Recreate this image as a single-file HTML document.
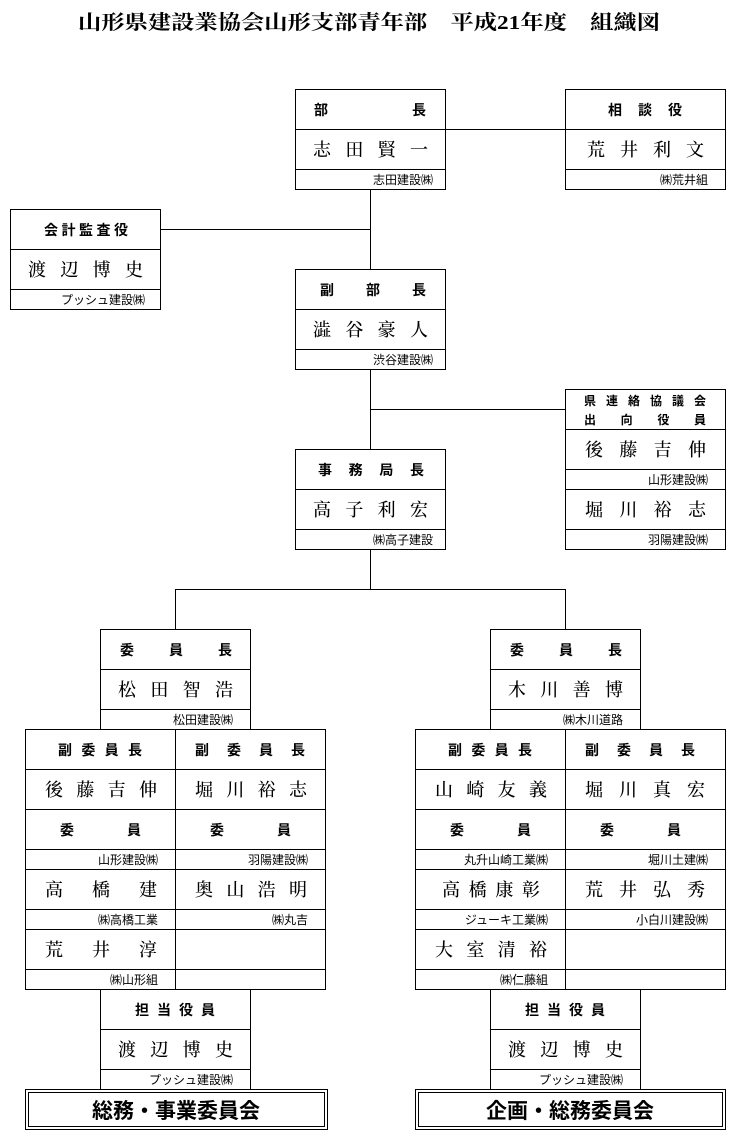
<!DOCTYPE html>
<html><head><meta charset="utf-8"><style>
html,body{margin:0;padding:0;background:#fff;}
svg{display:block;}
.t{font-family:"Liberation Serif","Noto Serif CJK SC",serif;font-weight:bold;font-size:20px;}
.h{font-family:"Liberation Sans","Noto Sans CJK JP",sans-serif;font-weight:bold;font-size:14px;}
.h2{font-family:"Liberation Sans","Noto Sans CJK JP",sans-serif;font-weight:bold;font-size:12px;}
.n{font-family:"Liberation Serif","Noto Serif CJK SC",serif;font-size:18px;font-weight:500;}
.c{font-family:"Liberation Sans","Noto Sans CJK JP",sans-serif;font-size:12px;text-anchor:end;}
.b{font-family:"Liberation Sans","Noto Sans CJK JP",sans-serif;font-weight:bold;font-size:21px;text-anchor:middle;}
rect,line{stroke:#000;stroke-width:1;fill:none;}
</style></head><body>
<svg width="736" height="1141" viewBox="0 0 736 1141" xmlns="http://www.w3.org/2000/svg">
<text class="t" x="78" y="29" textLength="582" lengthAdjust="spacingAndGlyphs">山形県建設業協会山形支部青年部　平成21年度　組織図</text>
<g shape-rendering="crispEdges">
<line x1="370.5" y1="189" x2="370.5" y2="269"/>
<line x1="370.5" y1="369" x2="370.5" y2="449"/>
<line x1="445" y1="129.5" x2="565" y2="129.5"/>
<line x1="160" y1="229.5" x2="370" y2="229.5"/>
<line x1="370" y1="409.5" x2="565" y2="409.5"/>
<line x1="370.5" y1="549" x2="370.5" y2="589"/>
<line x1="175.5" y1="589.5" x2="565.5" y2="589.5"/>
<line x1="175.5" y1="589" x2="175.5" y2="629"/>
<line x1="565.5" y1="589" x2="565.5" y2="629"/>

<rect x="295.5" y="89.5" width="150" height="100"/>
<line x1="295" y1="129.5" x2="445" y2="129.5"/><line x1="295" y1="169.5" x2="445" y2="169.5"/>
<rect x="565.5" y="89.5" width="160" height="100"/>
<line x1="565" y1="129.5" x2="725" y2="129.5"/><line x1="565" y1="169.5" x2="725" y2="169.5"/>
<rect x="10.5" y="209.5" width="150" height="100"/>
<line x1="10" y1="249.5" x2="160" y2="249.5"/><line x1="10" y1="289.5" x2="160" y2="289.5"/>
<rect x="295.5" y="269.5" width="150" height="100"/>
<line x1="295" y1="309.5" x2="445" y2="309.5"/><line x1="295" y1="349.5" x2="445" y2="349.5"/>
<rect x="565.5" y="389.5" width="160" height="160"/>
<line x1="565" y1="429.5" x2="725" y2="429.5"/><line x1="565" y1="469.5" x2="725" y2="469.5"/>
<line x1="565" y1="489.5" x2="725" y2="489.5"/><line x1="565" y1="529.5" x2="725" y2="529.5"/>
<rect x="295.5" y="449.5" width="150" height="100"/>
<line x1="295" y1="489.5" x2="445" y2="489.5"/><line x1="295" y1="529.5" x2="445" y2="529.5"/>

<rect x="100.5" y="629.5" width="150" height="100"/>
<line x1="100" y1="669.5" x2="250" y2="669.5"/><line x1="100" y1="709.5" x2="250" y2="709.5"/>
<rect x="25.5" y="729.5" width="300" height="260"/>
<line x1="175.5" y1="729" x2="175.5" y2="989"/>
<line x1="25" y1="769.5" x2="325" y2="769.5"/><line x1="25" y1="809.5" x2="325" y2="809.5"/>
<line x1="25" y1="849.5" x2="325" y2="849.5"/><line x1="25" y1="869.5" x2="325" y2="869.5"/>
<line x1="25" y1="909.5" x2="325" y2="909.5"/><line x1="25" y1="929.5" x2="325" y2="929.5"/>
<line x1="25" y1="969.5" x2="325" y2="969.5"/>
<rect x="100.5" y="989.5" width="150" height="100"/>
<line x1="100" y1="1029.5" x2="250" y2="1029.5"/><line x1="100" y1="1069.5" x2="250" y2="1069.5"/>
<rect x="25.5" y="1089.5" width="302" height="40"/>
<rect x="28.5" y="1092.5" width="296" height="34"/>

<rect x="490.5" y="629.5" width="150" height="100"/>
<line x1="490" y1="669.5" x2="640" y2="669.5"/><line x1="490" y1="709.5" x2="640" y2="709.5"/>
<rect x="415.5" y="729.5" width="310" height="260"/>
<line x1="565.5" y1="729" x2="565.5" y2="989"/>
<line x1="415" y1="769.5" x2="725" y2="769.5"/><line x1="415" y1="809.5" x2="725" y2="809.5"/>
<line x1="415" y1="849.5" x2="725" y2="849.5"/><line x1="415" y1="869.5" x2="725" y2="869.5"/>
<line x1="415" y1="909.5" x2="725" y2="909.5"/><line x1="415" y1="929.5" x2="725" y2="929.5"/>
<line x1="415" y1="969.5" x2="725" y2="969.5"/>
<rect x="490.5" y="989.5" width="150" height="100"/>
<line x1="490" y1="1029.5" x2="640" y2="1029.5"/><line x1="490" y1="1069.5" x2="640" y2="1069.5"/>
<rect x="415.5" y="1089.5" width="310" height="40"/>
<rect x="418.5" y="1092.5" width="304" height="34"/>
</g>

<text class="h" x="314" y="115" textLength="112" lengthAdjust="spacing">部長</text>
<text class="n" x="313" y="156" textLength="115" lengthAdjust="spacing">志田賢一</text>
<text class="c" x="433" y="184">志田建設㈱</text>

<text class="h" x="608" y="115" textLength="74" lengthAdjust="spacing">相談役</text>
<text class="n" x="587" y="156" textLength="117" lengthAdjust="spacing">荒井利文</text>
<text class="c" x="708" y="184">㈱荒井組</text>

<text class="h" x="44" y="235" textLength="84" lengthAdjust="spacing">会計監査役</text>
<text class="n" x="28" y="276" textLength="115" lengthAdjust="spacing">渡辺博史</text>
<text class="c" x="145" y="304">プッシュ建設㈱</text>

<text class="h" x="320" y="295" textLength="106" lengthAdjust="spacing">副部長</text>
<text class="n" x="313" y="336" textLength="115" lengthAdjust="spacing">澁谷豪人</text>
<text class="c" x="433" y="364">渋谷建設㈱</text>

<text class="h2" x="584" y="405" textLength="122" lengthAdjust="spacing">県連絡協議会</text>
<text class="h2" x="584" y="424" textLength="122" lengthAdjust="spacing">出向役員</text>
<text class="n" x="585" y="456" textLength="121" lengthAdjust="spacing">後藤吉伸</text>
<text class="c" x="708" y="484">山形建設㈱</text>
<text class="n" x="585" y="516" textLength="121" lengthAdjust="spacing">堀川裕志</text>
<text class="c" x="708" y="544">羽陽建設㈱</text>

<text class="h" x="318" y="475" textLength="106" lengthAdjust="spacing">事務局長</text>
<text class="n" x="313" y="516" textLength="115" lengthAdjust="spacing">高子利宏</text>
<text class="c" x="433" y="544">㈱高子建設</text>

<text class="h" x="120" y="655" textLength="112" lengthAdjust="spacing">委員長</text>
<text class="n" x="118" y="696" textLength="115" lengthAdjust="spacing">松田智浩</text>
<text class="c" x="233" y="724">松田建設㈱</text>

<text class="h" x="58" y="755" textLength="84" lengthAdjust="spacing">副委員長</text>
<text class="h" x="195" y="755" textLength="110" lengthAdjust="spacing">副委員長</text>
<text class="n" x="45" y="796" textLength="112" lengthAdjust="spacing">後藤吉伸</text>
<text class="n" x="195" y="796" textLength="112" lengthAdjust="spacing">堀川裕志</text>
<text class="h" x="60" y="835" textLength="81" lengthAdjust="spacing">委員</text>
<text class="h" x="210" y="835" textLength="81" lengthAdjust="spacing">委員</text>
<text class="c" x="158" y="864">山形建設㈱</text>
<text class="c" x="308" y="864">羽陽建設㈱</text>
<text class="n" x="45" y="896" textLength="112" lengthAdjust="spacing">高橋建</text>
<text class="n" x="195" y="896" textLength="112" lengthAdjust="spacing">奥山浩明</text>
<text class="c" x="158" y="924">㈱高橋工業</text>
<text class="c" x="308" y="924">㈱丸吉</text>
<text class="n" x="45" y="956" textLength="112" lengthAdjust="spacing">荒井淳</text>
<text class="c" x="158" y="984">㈱山形組</text>

<text class="h" x="135" y="1015" textLength="80" lengthAdjust="spacing">担当役員</text>
<text class="n" x="118" y="1056" textLength="115" lengthAdjust="spacing">渡辺博史</text>
<text class="c" x="233" y="1084">プッシュ建設㈱</text>
<text class="b" x="176" y="1118">総務・事業委員会</text>

<text class="h" x="510" y="655" textLength="112" lengthAdjust="spacing">委員長</text>
<text class="n" x="508" y="696" textLength="115" lengthAdjust="spacing">木川善博</text>
<text class="c" x="623" y="724">㈱木川道路</text>

<text class="h" x="448" y="755" textLength="84" lengthAdjust="spacing">副委員長</text>
<text class="h" x="585" y="755" textLength="110" lengthAdjust="spacing">副委員長</text>
<text class="n" x="435" y="796" textLength="112" lengthAdjust="spacing">山崎友義</text>
<text class="n" x="585" y="796" textLength="120" lengthAdjust="spacing">堀川真宏</text>
<text class="h" x="450" y="835" textLength="81" lengthAdjust="spacing">委員</text>
<text class="h" x="600" y="835" textLength="81" lengthAdjust="spacing">委員</text>
<text class="c" x="548" y="864">丸升山崎工業㈱</text>
<text class="c" x="708" y="864">堀川土建㈱</text>
<text class="n" x="442" y="896" textLength="98" lengthAdjust="spacing">高橋康彰</text>
<text class="n" x="585" y="896" textLength="120" lengthAdjust="spacing">荒井弘秀</text>
<text class="c" x="548" y="924">ジューキ工業㈱</text>
<text class="c" x="708" y="924">小白川建設㈱</text>
<text class="n" x="435" y="956" textLength="112" lengthAdjust="spacing">大室清裕</text>
<text class="c" x="548" y="984">㈱仁藤組</text>

<text class="h" x="525" y="1015" textLength="80" lengthAdjust="spacing">担当役員</text>
<text class="n" x="508" y="1056" textLength="115" lengthAdjust="spacing">渡辺博史</text>
<text class="c" x="623" y="1084">プッシュ建設㈱</text>
<text class="b" x="570" y="1118">企画・総務委員会</text>
</svg>
</body></html>
